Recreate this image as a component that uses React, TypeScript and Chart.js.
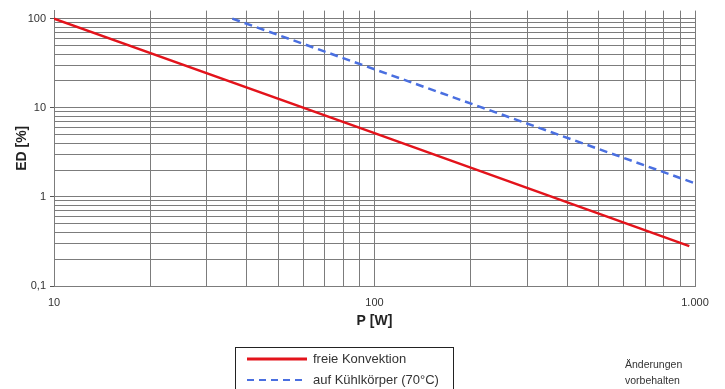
import React, { useEffect, useRef } from "react";
import { Chart, registerables } from "chart.js";

Chart.register(...registerables);

// ---- data ----
const SERIES_NAMES = ["freie Konvektion", "auf Kühlkörper (70°C)"];
const FREE_P = [10, 100, 960];
const FREE_ED = [100, 5.2, 0.28];
const SINK_P = [36, 100, 1000];
const SINK_ED = [100, 27, 1.42];

const P_TICKS = [10, 20, 30, 40, 50, 60, 70, 80, 90, 100, 200, 300, 400, 500, 600, 700, 800, 900, 1000];
const P_MAJOR = [10, 100, 1000];
const P_MAJOR_LABELS = ["10", "100", "1.000"];

const ED_TICKS = [
  0.1, 0.2, 0.3, 0.4, 0.5, 0.6, 0.7, 0.8, 0.9,
  1, 2, 3, 4, 5, 6, 7, 8, 9,
  10, 20, 30, 40, 50, 60, 70, 80, 90, 100,
];
const ED_MAJOR = [0.1, 1, 10, 100];
const ED_MAJOR_LABELS = ["0,1", "1", "10", "100"];

const X_TITLE = "P [W]";
const Y_TITLE = "ED [%]";
const NOTE_LINES = ["Änderungen", "vorbehalten"];

const RED = "#e3131b";
const BLUE = "#4a6fe0";
const GRID = "#7c7c7c";
const FONT = "'Liberation Sans', Arial, sans-serif";

export default function App() {
  const ref = useRef<HTMLCanvasElement | null>(null);

  useEffect(() => {
    const canvas = ref.current;
    if (!canvas) return;
    const chart = new Chart(canvas, {
      type: "scatter",
      data: {
        datasets: [
          {
            label: SERIES_NAMES[0],
            data: FREE_P.map((p, i) => ({ x: p, y: FREE_ED[i] })),
            showLine: true,
            borderColor: RED,
            backgroundColor: RED,
            borderWidth: 2.5,
            pointRadius: 0,
          },
          {
            label: SERIES_NAMES[1],
            data: SINK_P.map((p, i) => ({ x: p, y: SINK_ED[i] })),
            showLine: true,
            borderColor: BLUE,
            backgroundColor: BLUE,
            borderWidth: 2.5,
            borderDash: [8, 5],
            pointRadius: 0,
          },
        ],
      },
      options: {
        responsive: false,
        animation: false,
        devicePixelRatio: 1,
        layout: { padding: { left: 0, right: 30, top: 10, bottom: 0 } },
        plugins: { legend: { display: false }, tooltip: { enabled: false } },
        scales: {
          x: {
            type: "logarithmic",
            min: 10,
            max: 1000,
            bounds: "data",
            afterBuildTicks: (scale: any) => {
              scale.ticks = P_TICKS.map((v) => ({ value: v }));
            },
            afterFit: (scale: any) => {
              scale.height = 103;
            },
            grid: { color: GRID, lineWidth: 1, drawTicks: false },
            border: { color: GRID, width: 1 },
            ticks: {
              autoSkip: false,
              maxRotation: 0,
              padding: 10,
              color: "#333",
              font: { family: FONT, size: 11 },
              callback: (value: any) => {
                const i = P_MAJOR.indexOf(Number(value));
                return i >= 0 ? P_MAJOR_LABELS[i] : "";
              },
            },
            title: {
              display: true,
              text: X_TITLE,
              color: "#222",
              font: { family: FONT, size: 14, weight: "bold" },
              padding: { top: 0, bottom: 59 },
            },
          },
          y: {
            type: "logarithmic",
            min: 0.1,
            max: 123,
            bounds: "data",
            afterBuildTicks: (scale: any) => {
              scale.ticks = ED_TICKS.map((v) => ({ value: v }));
            },
            afterFit: (scale: any) => {
              scale.width = 54;
            },
            grid: {
              color: GRID,
              lineWidth: 1,
              drawTicks: true,
              tickLength: 4,
              tickColor: (ctx: any) =>
                ctx.tick && ED_MAJOR.indexOf(ctx.tick.value) >= 0 ? "#555" : "rgba(0,0,0,0)",
            },
            border: { color: GRID, width: 1 },
            ticks: {
              autoSkip: false,
              padding: 4,
              color: "#333",
              font: { family: FONT, size: 11 },
              callback: (value: any) => {
                const i = ED_MAJOR.indexOf(Number(value));
                return i >= 0 ? ED_MAJOR_LABELS[i] : "";
              },
            },
            title: {
              display: true,
              text: Y_TITLE,
              color: "#222",
              font: { family: FONT, size: 14, weight: "bold" },
              padding: { top: 14, bottom: 0 },
            },
          },
        },
      },
    });
    return () => chart.destroy();
  }, []);

  const textStyle: React.CSSProperties = {
    position: "absolute",
    fontFamily: FONT,
    fontSize: 13,
    color: "#333",
    whiteSpace: "nowrap",
    lineHeight: "16px",
  };

  return (
    <div style={{ position: "fixed", left: 0, top: 0, width: 725, height: 389, background: "#fff", overflow: "hidden" }}>
      <canvas ref={ref} width={725} height={389} style={{ position: "absolute", left: 0, top: 0, width: 725, height: 389 }} />
      <div
        style={{
          position: "absolute",
          left: 235,
          top: 347,
          width: 219,
          height: 60,
          border: "1.5px solid #222",
          boxSizing: "border-box",
        }}
      />
      <svg style={{ position: "absolute", left: 0, top: 0 }} width={725} height={389}>
        <line x1={247} y1={359} x2={307} y2={359} stroke={RED} strokeWidth={3} />
        <line x1={247} y1={380} x2={307} y2={380} stroke={BLUE} strokeWidth={2} strokeDasharray="7 5" />
      </svg>
      <div style={{ ...textStyle, left: 313, top: 351 }}>{SERIES_NAMES[0]}</div>
      <div style={{ ...textStyle, left: 313, top: 372 }}>{SERIES_NAMES[1]}</div>
      <div style={{ ...textStyle, left: 625, top: 356, fontSize: 10.5, lineHeight: "16px" }}>
        {NOTE_LINES[0]}
        <br />
        {NOTE_LINES[1]}
      </div>
    </div>
  );
}
